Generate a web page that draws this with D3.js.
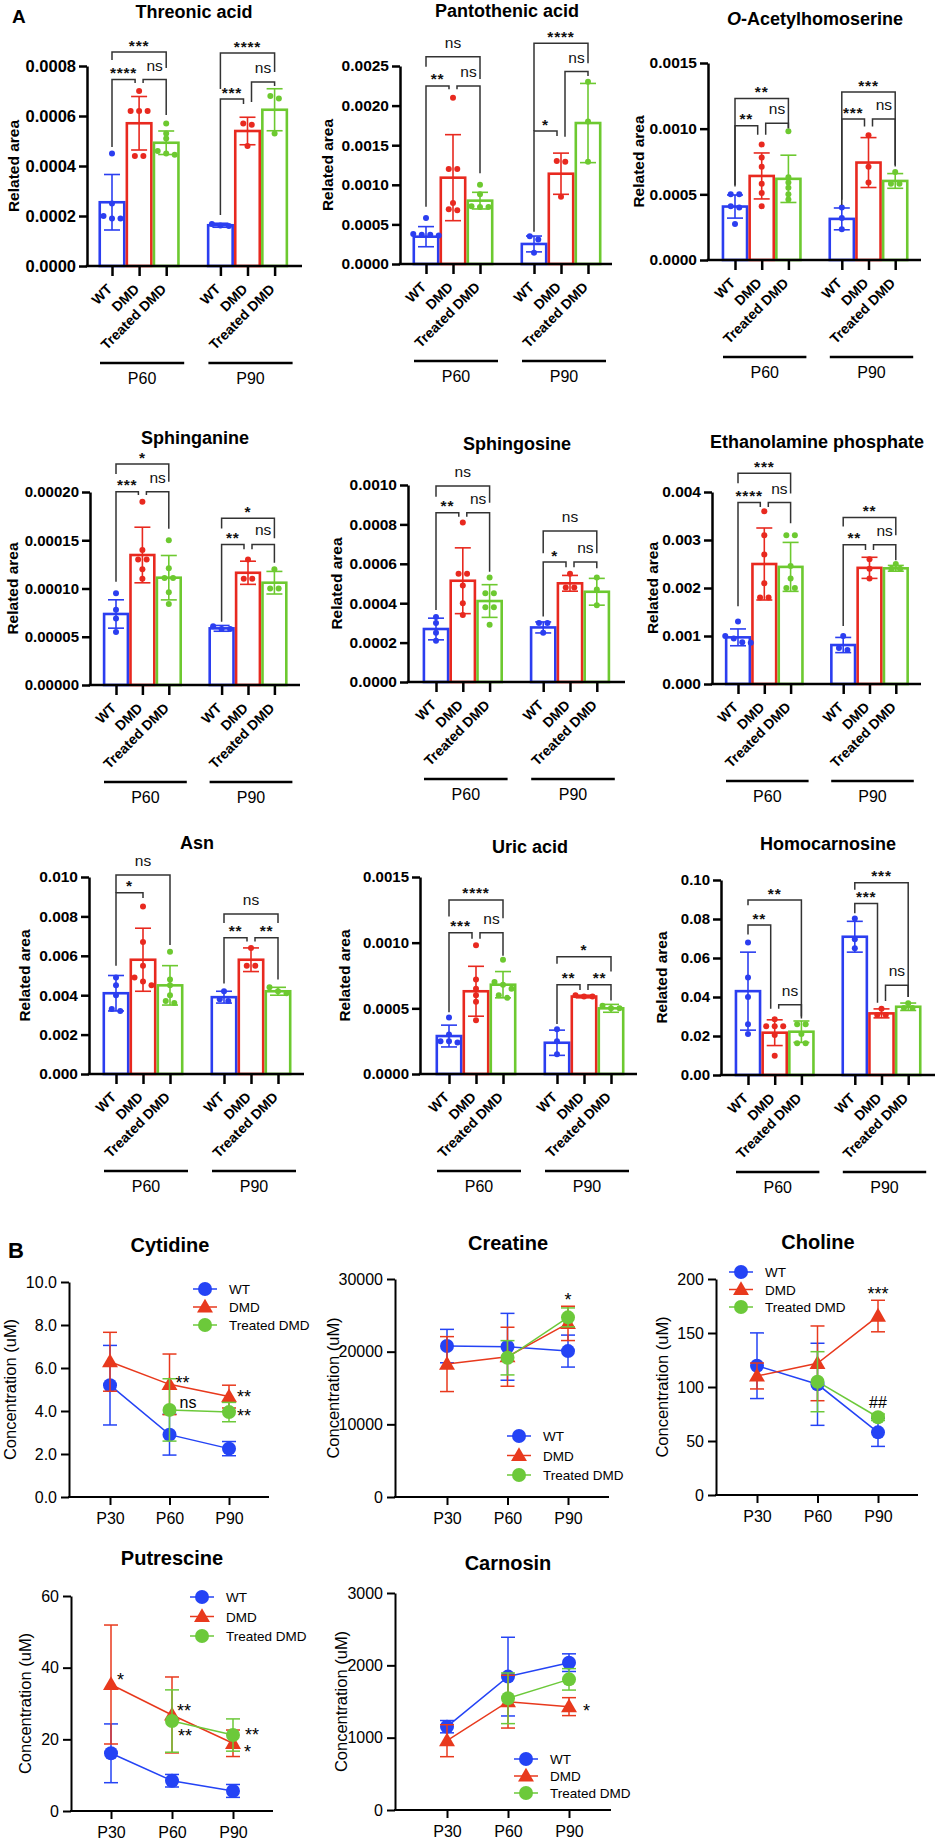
<!DOCTYPE html>
<html><head><meta charset="utf-8">
<script src="https://cdn.jsdelivr.net/npm/d3@7"></script>
<style>body{margin:0;background:#fff}svg{display:block}</style>
</head><body>
<svg id="c" width="938" height="1841"></svg>
<script>
// ---------------- DATA : panel A (bars) ----------------
const groups = ["WT", "DMD", "Treated DMD"];
const ages = ["P60", "P90"];
const barTitles = ["Threonic acid", "Pantothenic acid", "O-Acetylhomoserine", "Sphinganine", "Sphingosine",
  "Ethanolamine phosphate", "Asn", "Uric acid", "Homocarnosine"];
const barTickLabels = [
  ["0.0000", "0.0002", "0.0004", "0.0006", "0.0008"],
  ["0.0000", "0.0005", "0.0010", "0.0015", "0.0020", "0.0025"],
  ["0.0000", "0.0005", "0.0010", "0.0015"],
  ["0.00000", "0.00005", "0.00010", "0.00015", "0.00020"],
  ["0.0000", "0.0002", "0.0004", "0.0006", "0.0008", "0.0010"],
  ["0.000", "0.001", "0.002", "0.003", "0.004"],
  ["0.000", "0.002", "0.004", "0.006", "0.008", "0.010"],
  ["0.0000", "0.0005", "0.0010", "0.0015"],
  ["0.00", "0.02", "0.04", "0.06", "0.08", "0.10"]
];
// order per panel: WT P60, DMD P60, Treated P60, WT P90, DMD P90, Treated P90
const barMeans = [
  [0.000255, 0.000571, 0.000493, 0.000163, 0.00054, 0.000625],
  [0.000345, 0.00109, 0.0008, 0.000253, 0.00114, 0.00178],
  [0.000407, 0.00064, 0.000618, 0.000313, 0.000742, 0.000602],
  [0.0000736, 0.0001347, 0.0001112, 0.0000587, 0.0001163, 0.000106],
  [0.000269, 0.000514, 0.000411, 0.000277, 0.000501, 0.000458],
  [0.000972, 0.0025, 0.00244, 0.000812, 0.00242, 0.00241],
  [0.0041, 0.0058, 0.0045, 0.0039, 0.0058, 0.0042],
  [0.000289, 0.00063, 0.00068, 0.000238, 0.00059, 0.0005],
  [0.043, 0.0217, 0.0222, 0.0709, 0.0316, 0.035]
];
const barSD = [
  [0.000111, 0.000107, 0.000047, 0.000008, 0.000055, 0.000084],
  [0.000127, 0.000543, 0.000105, 0.0001, 0.00026, 0.0005],
  [0.000088, 0.000175, 0.00018, 0.000083, 0.00019, 0.000056],
  [0.0000147, 0.0000288, 0.000023, 0.000003, 0.000012, 0.0000117],
  [0.000055, 0.000167, 0.000083, 0.000028, 0.00004, 0.000068],
  [0.000175, 0.00075, 0.00051, 0.000158, 0.00022, 0.00006],
  [0.0009, 0.0016, 0.001, 0.0003, 0.0006, 0.0002],
  [0.000083, 0.00019, 0.0001, 0.000096, 0.00001, 0.00003],
  [0.02, 0.0066, 0.0055, 0.0079, 0.0023, 0.0019]
];
const barDots = [
  [[0.00045,0.00025,0.0002,0.00019,0.00019],[0.0007,0.00062,0.00062,0.00062,0.00044,0.00044],[0.00057,0.00053,0.00051,0.00046,0.000445,0.00045],[0.000168,0.00016,0.000162],[0.00057,0.000565,0.00048],[0.00068,0.00067,0.00053]],
  [[0.00058,0.00038,0.00037,0.00036,0.00037],[0.0021,0.0012,0.0012,0.00077,0.00068,0.00069],[0.001,0.00088,0.00072,0.00072,0.00073],[0.00031,0.00035,0.000143],[0.0013,0.00129,0.00085],[0.0023,0.0018,0.00129]],
  [[0.0005,0.0005,0.00041,0.0004,0.000275],[0.00088,0.00078,0.00071,0.00058,0.00051,0.00041],[0.00098,0.00063,0.00059,0.00055,0.0005,0.00046],[0.0004,0.00032,0.000234],[0.00095,0.00071,0.00059],[0.00067,0.00058,0.00058]],
  [[0.000095,0.000078,0.000069,0.000055],[0.00019,0.00014,0.00013,0.00013,0.00012,0.00011],[0.00015,0.000121,0.000111,0.000111,0.000096,0.000084],[0.000058,0.000061,0.000058],[0.00013,0.00011,0.00011],[0.00012,0.0001,0.0001]],
  [[0.00033,0.0003,0.00025,0.00021],[0.00081,0.00055,0.00055,0.00049,0.0004,0.00034],[0.00053,0.00045,0.00045,0.00038,0.00038,0.00029],[0.0003,0.0003,0.00025],[0.00055,0.00048,0.00048],[0.00053,0.00047,0.00039]],
  [[0.0013,0.001,0.00095,0.00086,0.00087],[0.0036,0.0031,0.0027,0.0021,0.0018,0.0018],[0.0031,0.0031,0.00246,0.0022,0.002,0.002],[0.001,0.00071,0.00075],[0.0026,0.0024,0.0022],[0.0025,0.0024,0.0024]],
  [[0.0049,0.0045,0.004,0.0033,0.0032],[0.0085,0.0067,0.0055,0.0049,0.0047,0.0045],[0.0062,0.0048,0.0045,0.004,0.0037,0.0036],[0.0042,0.0038,0.0037],[0.0064,0.0055,0.0055],[0.0044,0.0042,0.0041]],
  [[0.00043,0.0003,0.00025,0.00024,0.00025],[0.00098,0.00072,0.00065,0.0006,0.00055,0.00041],[0.00087,0.0007,0.00068,0.00065,0.0006,0.00058],[0.00034,0.00025,0.00015],[0.0006,0.00059,0.00059],[0.00052,0.0005,0.0005]],
  [[0.068,0.05,0.04,0.026,0.021],[0.0286,0.025,0.025,0.025,0.0205,0.0099],[0.026,0.026,0.021,0.0163,0.0163],[0.0803,0.0696,0.065],[0.034,0.0308,0.0308],[0.0368,0.0344,0.0344]]
];
// significance brackets: [from bar, to bar, label, bracket level, leg end at "from", leg end at "to"] (data units)
const barSig = [
  [[0,1,"****",0.000746,0.000476,0.000732],[1,2,"ns",0.000746,0.000732,0.000604],[0,2,"***",0.000856,0.000824,0.000792],
   [3,4,"***",0.000668,0.000204,0.000648],[4,5,"ns",0.000736,0.000656,0.00072],[3,5,"****",0.000852,0.000708,0.000776]],
  [[0,1,"**",0.002248,0.000724,0.002206],[1,2,"ns",0.002248,0.002206,0.001145],[0,2,"ns",0.002618,0.002492,0.002336],
   [3,4,"*",0.001679,0.000408,0.001616],[4,5,"ns",0.002429,0.001608,0.002374],[3,5,"****",0.002786,0.001679,0.002534]],
  [[0,1,"**",0.001022,0.000559,0.000953],[1,2,"ns",0.001042,0.000953,0.001004],[0,2,"**",0.00123,0.000572,0.001004],
   [3,4,"***",0.001073,0.000419,0.001017],[4,5,"ns",0.001073,0.001017,0.000712],[3,5,"***",0.001279,0.000458,0.000724]],
  [[0,1,"***",0.0002003,0.000107,0.0001968],[1,2,"ns",0.0002003,0.0001968,0.000162],[0,2,"*",0.000229,0.0002186,0.0002106],
   [3,4,"**",0.0001457,0.0000656,0.0001406],[4,5,"ns",0.0001457,0.0001406,0.0001267],[3,5,"*",0.0001727,0.0001623,0.000152]],
  [[0,1,"**",0.000859,0.000365,0.000839],[1,2,"ns",0.000859,0.000839,0.00056],[0,2,"ns",0.000995,0.00094,0.00091],
   [3,4,"*",0.000609,0.000332,0.000582],[4,5,"ns",0.000609,0.000582,0.000577],[3,5,"ns",0.000766,0.000653,0.000653]],
  [[0,1,"****",0.00378,0.00162,0.00369],[1,2,"ns",0.00378,0.00369,0.00335],[0,2,"***",0.00439,0.00418,0.00397],
   [3,4,"**",0.0029,0.00121,0.00279],[4,5,"ns",0.0029,0.00279,0.00258],[3,5,"**",0.00347,0.00328,0.0031]],
  [[0,1,"*",0.0092,0.0055,0.00893],[0,2,"ns",0.0101,0.0092,0.00655],
   [3,4,"**",0.00692,0.0046,0.00672],[4,5,"**",0.00692,0.00672,0.0048],[3,5,"ns",0.00812,0.00766,0.00766]],
  [[0,1,"***",0.001076,0.00047,0.00103],[1,2,"ns",0.001076,0.00103,0.0009],[0,2,"****",0.001325,0.0012,0.001185],
   [3,4,"**",0.00068,0.00038,0.00064],[4,5,"**",0.00068,0.00064,0.00056],[3,5,"*",0.000893,0.00084,0.00078]],
  [[0,1,"**",0.0769,0.072,0.034],[1,2,"ns",0.036,0.034,0.03],[0,2,"**",0.0897,0.087,0.029],
   [3,4,"***",0.088,0.083,0.037],[4,5,"ns",0.046,0.038,0.04],[3,5,"***",0.0986,0.095,0.04]]
];

// ---------------- DATA : panel B (lines) ----------------
const lineTitles = ["Cytidine", "Creatine", "Choline", "Putrescine", "Carnosin"];
const lineTickLabels = [
  ["0.0", "2.0", "4.0", "6.0", "8.0", "10.0"],
  ["0", "10000", "20000", "30000"],
  ["0", "50", "100", "150", "200"],
  ["0", "20", "40", "60"],
  ["0", "1000", "2000", "3000"]
];
const times = ["P30", "P60", "P90"];
const seriesNames = ["WT", "DMD", "Treated DMD"];
const wtMean = [[5.2,2.9,2.25],[20770,20670,20080],[119.7,102.5,58],[16.1,8.45,5.6],[1152,1844,2037]];
const wtSD = [[1.85,0.95,0.33],[2300,4600,2200],[30.4,38,13],[8.2,1.75,1.8],[85,544,122]];
const dmdMean = [[6.29,5.24,4.67],[18290,19300,23890],[110.2,121.9,165.7],[35.3,26.8,18.9],[958,1498,1429]];
const dmdSD = [[1.37,1.41,0.53],[3780,4060,2360],[12,34.6,14.6],[16.6,10.6,3.7],[221,365,124]];
const tdmdMean = [[null,4.05,3.95],[null,19160,24720],[null,104.9,72],[null,25.1,21.2],[null,1544,1806]];
const tdmdSD = [[null,1.45,0.45],[null,2360,1300],[null,27.8,3],[null,8.7,4.5],[null,350,148]];
// annotations: [text, time index, value at text centre, "r" = right of point / "c" = centred, extra px shift]
const lineNotes = [
  [["**",1,5.5,"r",6],["ns",1,4.4,"r",10],["**",2,4.84,"r",8],["**",2,3.95,"r",8]],
  [["*",2,27650,"c",0]],
  [["***",2,190,"c",0],["##",2,86,"c",0]],
  [["*",0,37.7,"r",6],["**",1,29,"r",5],["**",1,22,"r",6],["**",2,22.3,"r",12],["*",2,17.6,"r",11]],
  [["*",2,1425,"r",14]]
];

// ---------------- LAYOUT ----------------
const barLayout = [
  {ax:87, y0:266, yTop:66, first:112, step:27.1, end:302, tx:194, ty:18, lx:14, fs:16.5},
  {ax:400, y0:264, yTop:66, first:426, step:27, end:612, tx:507, ty:17, lx:328, fs:15.5},
  {ax:708, y0:260, yTop:63, first:735, step:26.7, end:921, tx:815, ty:25, lx:639, fs:15.5},
  {ax:90, y0:685, yTop:492, first:116, step:26.4, end:300, tx:195, ty:444, lx:13, fs:15},
  {ax:408, y0:682, yTop:485, first:436, step:26.8, end:625, tx:517, ty:450, lx:337, fs:15.5},
  {ax:712, y0:684, yTop:492, first:738, step:26.3, end:921, tx:817, ty:448, lx:653, fs:15.5},
  {ax:89, y0:1074, yTop:877, first:116, step:27, end:304, tx:197, ty:849, lx:25, fs:15.5},
  {ax:420, y0:1074, yTop:877, first:449, step:27, end:637, tx:530, ty:853, lx:345, fs:15},
  {ax:721, y0:1075, yTop:880, first:748, step:26.7, end:935, tx:828, ty:850, lx:662, fs:15}
];
const lineLayout = [
  {ax:69, y0:1497, yTop:1282, p0:110, p2:229, end:269, tx:170, ty:1252, lx:10, legX:205, legY:1289, legGap:18},
  {ax:395, y0:1497, yTop:1279, p0:447, p2:568, end:609, tx:508, ty:1250, lx:333, legX:519, legY:1436, legGap:19.5},
  {ax:716, y0:1495, yTop:1279, p0:757, p2:878, end:918, tx:818, ty:1249, lx:662, legX:741, legY:1272, legGap:17.5},
  {ax:71, y0:1811, yTop:1596, p0:111, p2:233, end:273, tx:172, ty:1565, lx:25, legX:202, legY:1597, legGap:19.5},
  {ax:395, y0:1810, yTop:1593, p0:447, p2:569, end:611, tx:508, ty:1570, lx:341, legX:526, legY:1759, legGap:17}
];
const colA = ["#2b3ef0", "#e8291f", "#6dc930"];
const colB = ["#2443f5", "#e8391d", "#6cc93a"];
const FONT = "'Liberation Sans', Arial, Helvetica, sans-serif";
const svg = d3.select("#c");

svg.append("text").attr("x", 12).attr("y", 23).text("A")
  .attr("font-family", FONT).attr("font-weight", "bold").attr("font-size", 19);
svg.append("text").attr("x", 8).attr("y", 1258).text("B")
  .attr("font-family", FONT).attr("font-weight", "bold").attr("font-size", 22);

function jitter(vals, y) {
  const pts = vals.map(v => ({v, py: y(v)})).sort((a, b) => a.py - b.py);
  const out = []; let cl = [];
  const flush = () => { const n = cl.length; cl.forEach((d, m) => { d.dx = (m - (n - 1) / 2) * 8.5; out.push(d); }); cl = []; };
  pts.forEach(d => { if (cl.length && d.py - cl[cl.length - 1].py > 4) flush(); cl.push(d); });
  flush();
  return out;
}

function drawBarPanel(p) {
  const L = barLayout[p];
  const ticks = barTickLabels[p], tv = ticks.map(Number);
  const y = d3.scaleLinear().domain([0, tv[tv.length - 1]]).range([L.y0, L.yTop]);
  const slot = [0, 1, 2, 4, 5, 6];
  const x = d3.scaleLinear().domain([0, 6]).range([L.first, L.first + 6 * L.step]);
  const g = svg.append("g");

  const t = g.append("text").attr("x", L.tx).attr("y", L.ty).attr("text-anchor", "middle")
    .attr("font-family", FONT).attr("font-weight", "bold").attr("font-size", 18);
  const title = barTitles[p];
  if (/^O-/.test(title)) {
    t.append("tspan").attr("font-style", "italic").text("O");
    t.append("tspan").text(title.slice(1));
  } else t.text(title);

  g.append("text").attr("transform", `translate(${L.lx},${(L.y0 + L.yTop) / 2}) rotate(-90)`)
    .attr("dy", "0.35em").attr("text-anchor", "middle").text("Related area")
    .attr("font-family", FONT).attr("font-weight", "bold").attr("font-size", 15.5);

  barMeans[p].forEach((m, i) => {
    const cx = x(slot[i]);
    g.append("rect").attr("x", cx - L.step / 2 + 1.3).attr("y", y(m))
      .attr("width", L.step - 2.6).attr("height", L.y0 - y(m))
      .attr("fill", "#fff").attr("stroke", colA[i % 3]).attr("stroke-width", 2.6);
  });
  barMeans[p].forEach((m, i) => {
    const cx = x(slot[i]), s = barSD[p][i], c = colA[i % 3];
    const lo = y(Math.max(0, m - s)), hi = y(m + s);
    g.append("line").attr("x1", cx).attr("x2", cx).attr("y1", lo).attr("y2", hi).attr("stroke", c).attr("stroke-width", 1.6);
    [lo, hi].forEach(yy => g.append("line").attr("x1", cx - 8).attr("x2", cx + 8).attr("y1", yy).attr("y2", yy)
      .attr("stroke", c).attr("stroke-width", 1.6));
  });
  barDots[p].forEach((vals, i) => {
    const cx = x(slot[i]);
    jitter(vals, y).forEach(d => g.append("circle").attr("cx", cx + d.dx).attr("cy", d.py).attr("r", 3)
      .attr("fill", colA[i % 3]));
  });

  const ya = g.append("g").attr("transform", `translate(${L.ax},0)`)
    .call(d3.axisLeft(y).tickValues(tv).tickFormat((d, i) => ticks[i]).tickSize(8).tickSizeOuter(0).tickPadding(3));
  ya.select(".domain").attr("stroke-width", 2.5).attr("stroke", "#000");
  ya.selectAll(".tick line").attr("stroke-width", 2.5).attr("stroke", "#000");
  ya.selectAll(".tick text").attr("font-family", FONT).attr("font-weight", "bold").attr("font-size", L.fs).attr("fill", "#000");
  const xa = g.append("g").attr("transform", `translate(0,${L.y0})`)
    .call(d3.axisBottom(x).tickValues(slot).tickFormat("").tickSize(10).tickSizeOuter(0));
  xa.select(".domain").remove();
  xa.selectAll(".tick line").attr("stroke-width", 2.5).attr("stroke", "#000");
  g.append("line").attr("x1", L.ax - 1.25).attr("x2", L.end).attr("y1", L.y0).attr("y2", L.y0)
    .attr("stroke", "#000").attr("stroke-width", 2.5);

  slot.forEach((s, i) => {
    g.append("text").attr("transform", `translate(${x(s) + 1},${L.y0 + 24}) rotate(-45)`)
      .attr("text-anchor", "end").text(groups[i % 3])
      .attr("font-family", FONT).attr("font-weight", "bold").attr("font-size", 14);
  });
  ages.forEach((a, k) => {
    const x1 = x(slot[k * 3]) - 12, x2 = x(slot[k * 3 + 2]) + 18, ly = L.y0 + 97;
    g.append("line").attr("x1", x1).attr("x2", x2).attr("y1", ly).attr("y2", ly).attr("stroke", "#000").attr("stroke-width", 2.5);
    g.append("text").attr("x", (x1 + x2) / 2).attr("y", ly + 21).attr("text-anchor", "middle").text(a)
      .attr("font-family", FONT).attr("font-size", 16);
  });

  const sig = barSig[p];
  sig.forEach(s => {
    const [i, j, lab, lev, li, lj] = s;
    let xi = x(slot[i]), xj = x(slot[j]);
    const mid = i < 3 ? 1 : 4;
    if (j - i === 1) {
      const other = sig.some(o => o !== s && o[1] - o[0] === 1 && (o[0] === mid || o[1] === mid));
      if (other) { if (i === mid) xi += 4; if (j === mid) xj -= 4; }
    }
    g.append("path").attr("d", `M${xi},${y(li)}V${y(lev)}H${xj}V${y(lj)}`)
      .attr("fill", "none").attr("stroke", "#333").attr("stroke-width", 1.5);
    const isNs = lab === "ns";
    g.append("text").attr("x", (xi + xj) / 2).attr("y", y(lev) - (isNs ? 9 : 1.5))
      .attr("text-anchor", "middle").text(lab)
      .attr("font-family", FONT).attr("font-weight", isNs ? "normal" : "bold")
      .attr("font-size", 15.5).attr("letter-spacing", isNs ? 0 : 0.8).attr("fill", "#111");
  });
}

function drawLinePanel(p) {
  const L = lineLayout[p];
  const ticks = lineTickLabels[p], tv = ticks.map(Number);
  const y = d3.scaleLinear().domain([0, tv[tv.length - 1]]).range([L.y0, L.yTop]);
  const x = d3.scaleLinear().domain([0, 2]).range([L.p0, L.p2]);
  const g = svg.append("g");

  g.append("text").attr("x", L.tx).attr("y", L.ty).attr("text-anchor", "middle").text(lineTitles[p])
    .attr("font-family", FONT).attr("font-weight", "bold").attr("font-size", 20);
  g.append("text").attr("transform", `translate(${L.lx},${(L.y0 + L.yTop) / 2}) rotate(-90)`)
    .attr("dy", "0.35em").attr("text-anchor", "middle").text("Concentration (uM)")
    .attr("font-family", FONT).attr("font-size", 16.5);

  const ya = g.append("g").attr("transform", `translate(${L.ax},0)`)
    .call(d3.axisLeft(y).tickValues(tv).tickFormat((d, i) => ticks[i]).tickSize(8).tickSizeOuter(0).tickPadding(4));
  ya.select(".domain").attr("stroke-width", 2).attr("stroke", "#000");
  ya.selectAll(".tick line").attr("stroke-width", 2).attr("stroke", "#000");
  ya.selectAll(".tick text").attr("font-family", FONT).attr("font-size", 16).attr("fill", "#000");
  const xa = g.append("g").attr("transform", `translate(0,${L.y0})`)
    .call(d3.axisBottom(x).tickValues([0, 1, 2]).tickFormat((d, i) => times[i]).tickSize(8).tickSizeOuter(0).tickPadding(8));
  xa.select(".domain").remove();
  xa.selectAll(".tick line").attr("stroke-width", 2).attr("stroke", "#000");
  xa.selectAll(".tick text").attr("font-family", FONT).attr("font-size", 16).attr("fill", "#000");
  g.append("line").attr("x1", L.ax - 1).attr("x2", L.end).attr("y1", L.y0).attr("y2", L.y0)
    .attr("stroke", "#000").attr("stroke-width", 2);

  const means = [wtMean[p], dmdMean[p], tdmdMean[p]];
  const sds = [wtSD[p], dmdSD[p], tdmdSD[p]];
  const line = d3.line().defined(d => d.v != null).x(d => x(d.t)).y(d => y(d.v));
  const marker = (sel, k, cx, cy) => {
    if (k === 1) sel.append("path").attr("d", d3.symbol(d3.symbolTriangle, 110)())
      .attr("transform", `translate(${cx},${cy + 1})`).attr("fill", colB[k]);
    else sel.append("circle").attr("cx", cx).attr("cy", cy).attr("r", 7).attr("fill", colB[k]);
  };
  means.forEach((ms, k) => {
    const pts = ms.map((v, t) => ({v, t, s: sds[k][t]}));
    pts.filter(d => d.v != null).forEach(d => {
      const cx = x(d.t), lo = y(d.v - d.s), hi = y(d.v + d.s);
      g.append("line").attr("x1", cx).attr("x2", cx).attr("y1", lo).attr("y2", hi).attr("stroke", colB[k]).attr("stroke-width", 1.5);
      [lo, hi].forEach(yy => g.append("line").attr("x1", cx - 7).attr("x2", cx + 7).attr("y1", yy).attr("y2", yy)
        .attr("stroke", colB[k]).attr("stroke-width", 1.5));
    });
    g.append("path").attr("d", line(pts)).attr("fill", "none").attr("stroke", colB[k]).attr("stroke-width", 1.5);
    pts.filter(d => d.v != null).forEach(d => marker(g, k, x(d.t), y(d.v)));
  });

  seriesNames.forEach((nm, k) => {
    const ly = L.legY + k * L.legGap;
    g.append("line").attr("x1", L.legX - 12).attr("x2", L.legX + 12).attr("y1", ly).attr("y2", ly)
      .attr("stroke", colB[k]).attr("stroke-width", 1.5);
    marker(g, k, L.legX, ly);
    g.append("text").attr("x", L.legX + 24).attr("y", ly + 5).text(nm)
      .attr("font-family", FONT).attr("font-size", 13.5);
  });

  lineNotes[p].forEach(([lab, t, v, mode, dx]) => {
    const stars = /^\*+$/.test(lab);
    const fs = stars ? 18 : 16;
    const cy = y(v) + (stars ? 0.56 * fs : 0.36 * fs);
    g.append("text").attr("x", mode === "r" ? x(t) + dx : x(t)).attr("y", cy)
      .attr("text-anchor", mode === "r" ? "start" : "middle").text(lab)
      .attr("font-family", FONT).attr("font-size", fs);
  });
}

barTitles.forEach((_, p) => drawBarPanel(p));
lineTitles.forEach((_, p) => drawLinePanel(p));
</script>
</body></html>
